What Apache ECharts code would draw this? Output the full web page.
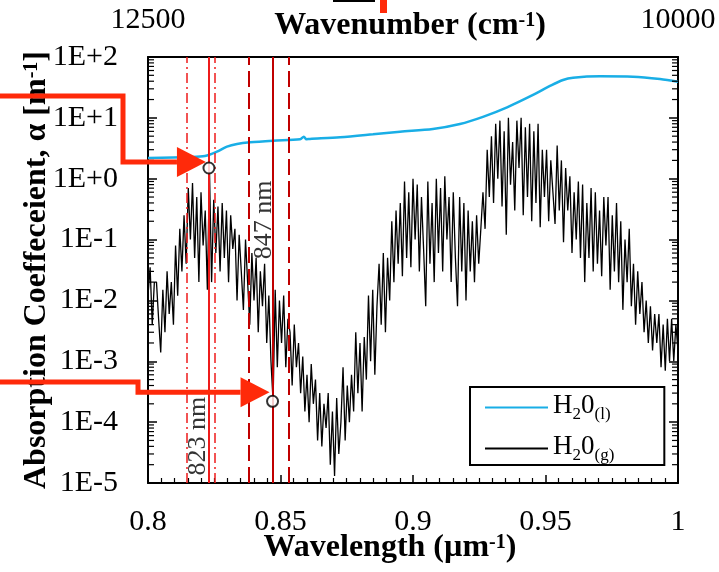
<!DOCTYPE html>
<html>
<head>
<meta charset="utf-8">
<script src="https://cdn.jsdelivr.net/npm/echarts@6/dist/echarts.min.js"></script>
<style>
  html, body { margin: 0; padding: 0; background: #fff; }
  #chart { width: 719px; height: 572px; }
</style>
</head>
<body>
<div id="chart"></div>
<script>
// liquid water (blue curve)
var liquidWl = [0.8, 0.8158, 0.8215, 0.826, 0.8298, 0.8336, 0.8385, 0.8472, 0.8574, 0.8588, 0.8598, 0.8611, 0.8725,
    0.8849, 0.8951, 0.9075, 0.9177, 0.9264, 0.9355, 0.9453, 0.9517, 0.9566, 0.9604, 0.9706, 0.983, 0.9932, 1.0];
var liquidAlpha = [2.19, 2.27, 2.36, 2.78, 3.36, 3.72, 3.96, 4.21, 4.45, 4.9, 4.45, 4.5, 4.8,
    5.37, 5.93, 6.57, 7.93, 10.4, 14.9, 23.8, 33.4, 41.9, 45.7, 48.2, 47.5, 43.5, 39.3];

// water vapour (black curve), one reading every 0.0008 um starting at 0.8 um
var gasStart = 0.8;
var gasStep = 0.0008;
var gasAlpha = [
    0.012, 0.035, 0.004, 0.02,
    0.02, 0.005, 0.0014, 0.015, 0.003,
    0.03, 0.006, 0.02, 0.004,
    0.08, 0.012, 0.15, 0.03, 0.25,
    0.04, 0.7, 0.1, 0.85, 0.05,
    0.5, 0.02, 0.6, 0.08, 0.3,
    0.015, 1.4,
    0.02, 0.45, 0.06, 0.35, 0.03,
    0.4, 0.05, 0.3, 0.02, 0.25, 0.07,
    0.15, 0.01, 0.12, 0.03, 0.007,
    0.1, 0.02, 0.004, 0.06, 0.01,
    0.05, 0.003, 0.03, 0.008, 0.04, 0.002,
    0.012, 0.001, 2.2e-4, 0.015, 8e-4,
    0.01, 0.002, 0.012, 8e-4, 0.005,
    0.003, 4e-4, 0.004, 8e-4, 0.002, 3e-4,
    0.0012, 1.5e-4, 6e-4, 1e-4, 9e-4, 2e-4,
    5e-4, 5e-5, 3e-4, 4e-5, 2e-4, 8e-5,
    3e-4, 2e-5, 1.5e-4, 1.3e-5, 2.5e-4, 3e-5, 1e-4,
    8e-4, 5e-5, 4e-4, 1e-4, 6e-4,
    1.5e-4, 0.003, 3e-4, 0.002, 1.5e-4, 0.0025,
    5e-4, 0.012, 0.001, 0.015, 6e-4, 0.008,
    0.04, 0.004, 0.06, 0.003, 0.05, 0.01,
    0.2, 0.02, 0.3, 0.04, 0.4, 0.025,
    0.9, 0.05, 0.6, 0.035, 1.0, 0.1,
    0.8, 0.03, 0.5, 0.07, 0.008, 0.9, 0.04, 0.4,
    0.02, 1.0, 0.06, 0.7, 0.03, 1.1, 0.1, 0.5,
    0.02, 0.6, 0.05, 0.008, 0.5, 0.03, 0.4, 0.01,
    0.3, 0.03, 0.2, 0.02, 0.25, 0.04, 0.15,
    0.6, 0.15, 3, 0.5, 5,
    0.4, 8, 1, 9, 0.35,
    6, 0.12, 10, 0.8, 4,
    0.3, 9, 1.5, 10, 0.25, 7, 0.5, 8,
    0.2, 6, 0.4, 8, 0.16, 3,
    0.5, 3, 0.2, 2, 0.6, 0.18,
    3.5, 0.3, 2, 0.09, 1.5, 0.3,
    1.1, 0.06, 0.6, 0.1, 0.9, 0.05,
    0.8, 0.02, 0.4, 0.05, 0.7, 0.03,
    0.6, 0.04, 0.3, 0.025, 0.5, 0.08,
    0.5, 0.015, 0.25, 0.03, 0.4, 0.02,
    0.2, 0.007, 0.1, 0.02, 0.15, 0.008,
    0.04, 0.004, 0.03, 0.006, 0.02, 0.003,
    0.01, 0.002, 0.008, 0.0015, 0.006, 0.002,
    0.006, 0.0008, 0.004, 0.0007, 0.005, 0.001,
    0.005, 0.001, 0.004, 0.0015
];

// the two laser lines (circles) and their band edges
var markWl = [0.823, 0.847];
var markAlpha = [1.5, 2.2e-4];
var band823 = [0.8147, 0.823, 0.8253];
var band847 = [0.8381, 0.847, 0.8531];
var markNames = ['823 nm', '847 nm'];
var markTextPos = [[0.8189, 5.9e-5], [0.8438, 0.21]];

// axes
var xTicks = [0.8, 0.85, 0.9, 0.95, 1];
var topLabels = ['12500', '10000'];
var yTickLabels = ['1E-5', '1E-4', '1E-3', '1E-2', '1E-1', '1E+0', '1E+1', '1E+2'];
var decades = [1e-5, 1e-4, 1e-3, 1e-2, 1e-1, 1, 10];

var serif = 'Liberation Serif';
var red1 = '#ee1b1b';
var red2 = '#c00000';

var gasData = gasAlpha.map(function (v, i) {
    return [+(gasStart + i * gasStep).toFixed(4), v];
});
var liquidData = liquidWl.map(function (w, i) {
    return [w, liquidAlpha[i]];
});

var minorVals = [];
decades.forEach(function (d) {
    for (var k = 2; k <= 9; k++) minorVals.push([0.8, d * k]);
});

function bandLine(x, color, type, width) {
    return { xAxis: x, lineStyle: { color: color, type: type, width: width } };
}

var titleRich = {
    b: { fontFamily: serif, fontSize: 32, fontWeight: 'bold', color: '#000', verticalAlign: 'bottom' },
    sup: { fontFamily: serif, fontSize: 20, fontWeight: 'bold', color: '#000', verticalAlign: 'bottom', padding: [0, 0, 11, 0] }
};

var chart = echarts.init(document.getElementById('chart'));

var option = {
    animation: false,
    backgroundColor: '#fff',
    grid: { left: 148, right: 41, top: 57, bottom: 89, outerBoundsMode: 'none' },
    legend: {
        data: [
            { name: 'H2O(l)', itemStyle: { opacity: 0 } },
            { name: 'H2O(g)', itemStyle: { opacity: 0 } }
        ],
        orient: 'vertical',
        left: 470,
        top: 387,
        padding: [5, 50, 1, 14],
        itemGap: 10,
        itemWidth: 63,
        itemHeight: 14,
        borderColor: '#000',
        borderWidth: 2,
        borderRadius: 0,
        backgroundColor: '#fff',
        selectedMode: false,
        formatter: function (name) {
            var state = name === 'H2O(l)' ? '(l)' : '(g)';
            return '{n|H}{s|2}{n|0}{s|' + state + '}';
        },
        textStyle: {
            fontFamily: serif, fontSize: 27, color: '#000',
            rich: {
                n: { fontFamily: serif, fontSize: 27, color: '#000', verticalAlign: 'bottom', padding: [0, 0, 4, 0] },
                s: { fontFamily: serif, fontSize: 17, color: '#000', verticalAlign: 'bottom' }
            }
        }
    },
    xAxis: [
        {
            type: 'value',
            min: 0.8,
            max: 1,
            interval: 0.05,
            position: 'bottom',
            axisLine: { show: true, lineStyle: { color: '#000', width: 2 } },
            axisTick: { show: true, inside: true, length: 8, lineStyle: { color: '#000', width: 1.5 } },
            minorTick: { show: true, splitNumber: 10, length: 5, lineStyle: { color: '#000', width: 1.2 } },
            splitLine: { show: false },
            axisLabel: {
                margin: 24,
                fontFamily: serif, fontSize: 30, color: '#000',
                formatter: function (v) {
                    for (var i = 0; i < xTicks.length; i++) {
                        if (Math.abs(xTicks[i] - v) < 1e-6) return String(xTicks[i]);
                    }
                    return '';
                }
            },
            name: '{b|Wavelength (µm}{sup|-1}{b|)}',
            nameLocation: 'middle',
            nameGap: 49,
            nameMoveOverlap: false,
            nameTextStyle: { padding: [0, 46, 0, 0], rich: titleRich }
        },
        {
            type: 'value',
            min: 0.8,
            max: 1,
            interval: 0.2,
            position: 'top',
            axisLine: { show: true, lineStyle: { color: '#000', width: 2 } },
            axisTick: { show: false },
            splitLine: { show: false },
            axisLabel: {
                margin: 22,
                showMinLabel: true,
                showMaxLabel: true,
                fontFamily: serif, fontSize: 30, color: '#000',
                formatter: function (v) {
                    if (Math.abs(v - 0.8) < 1e-6) return topLabels[0];
                    if (Math.abs(v - 1) < 1e-6) return topLabels[1];
                    return '';
                }
            },
            name: '{b|Wavenumber (cm}{sup|-1}{b|)}',
            nameLocation: 'middle',
            nameGap: 15,
            nameMoveOverlap: false,
            nameTextStyle: { padding: [0, 6, 0, 0], rich: titleRich }
        }
    ],
    yAxis: [
        {
            type: 'log',
            logBase: 10,
            min: 1e-5,
            max: 100,
            splitNumber: 7,
            axisLine: { show: true, lineStyle: { color: '#000', width: 2 } },
            axisTick: { show: true, inside: true, length: 9, lineStyle: { color: '#000', width: 1.5 } },
            splitLine: { show: false },
            axisLabel: {
                margin: 30,
                fontFamily: serif, fontSize: 30, color: '#000',
                formatter: function (v) {
                    var e = Math.round(Math.log10(v));
                    return yTickLabels[e + 5] || '';
                }
            },
            name: '{b|Absorption Coeffeceient, α [m}{sup|-1}{b|]}',
            nameLocation: 'middle',
            nameGap: 95,
            nameMoveOverlap: false,
            nameTextStyle: { rich: titleRich }
        },
        {
            type: 'log',
            logBase: 10,
            min: 1e-5,
            max: 100,
            splitNumber: 7,
            position: 'right',
            axisLine: { show: true, lineStyle: { color: '#000', width: 2 } },
            axisTick: { show: true, inside: true, length: 9, lineStyle: { color: '#000', width: 1.5 } },
            axisLabel: { show: false },
            splitLine: { show: false }
        }
    ],
    series: [
        {
            // log minor ticks on both vertical sides
            type: 'custom',
            name: 'ticks',
            silent: true,
            z: 5,
            data: minorVals,
            renderItem: function (params, api) {
                var v = api.value(1);
                var l = api.coord([0.8, v]);
                var r = api.coord([1, v]);
                return {
                    type: 'group',
                    children: [
                        { type: 'line', shape: { x1: l[0], y1: l[1], x2: l[0] + 6, y2: l[1] }, style: { stroke: '#000', lineWidth: 1.2 } },
                        { type: 'line', shape: { x1: r[0], y1: r[1], x2: r[0] - 6, y2: r[1] }, style: { stroke: '#000', lineWidth: 1.2 } }
                    ]
                };
            }
        },
        {
            name: 'bands',
            type: 'line',
            data: [],
            markLine: {
                silent: true,
                symbol: 'none',
                precision: 4,
                label: { show: false },
                data: [
                    bandLine(band823[0], red1, [10, 4, 2, 4], 1.5),
                    bandLine(band823[1], red1, 'solid', 2),
                    bandLine(band823[2], red1, [10, 4, 2, 4], 1.5),
                    bandLine(band847[0], red2, [16, 6], 2),
                    bandLine(band847[1], red2, 'solid', 2),
                    bandLine(band847[2], red2, [16, 6], 2)
                ]
            }
        },
        {
            name: 'H2O(g)',
            type: 'line',
            data: gasData,
            symbol: 'none',
            lineStyle: { color: '#000', width: 1.3 },
            itemStyle: { color: '#000' },
            z: 3
        },
        {
            name: 'H2O(l)',
            type: 'line',
            data: liquidData,
            symbol: 'none',
            smooth: 0.3,
            lineStyle: { color: '#19aee6', width: 2.5 },
            itemStyle: { color: '#19aee6' },
            z: 4
        },
        {
            name: 'marks',
            type: 'scatter',
            data: markWl.map(function (w, i) { return [w, markAlpha[i]]; }),
            symbol: 'emptyCircle',
            symbolSize: 11,
            itemStyle: { color: '#000', borderWidth: 2 },
            z: 6
        },
        {
            name: 'markText',
            type: 'scatter',
            data: markTextPos.map(function (p, i) { return { value: p, name: markNames[i] }; }),
            symbolSize: 0,
            itemStyle: { color: 'transparent' },
            label: {
                show: true,
                position: 'inside',
                rotate: 90,
                formatter: '{b}',
                fontFamily: serif, fontSize: 26, color: '#000'
            },
            z: 6
        }
    ]
};

chart.setOption(option);

// red arrows pointing at the two circles
var p1 = chart.convertToPixel({ xAxisIndex: 0, yAxisIndex: 0 }, [markWl[0], markAlpha[0]]);
var p2 = chart.convertToPixel({ xAxisIndex: 0, yAxisIndex: 0 }, [markWl[1], markAlpha[1]]);
var arrowColor = '#ff2a0a';

function arrow(tip, elbowX, topY) {
    var baseX = tip[0] - 29;
    return [
        {
            type: 'polyline',
            shape: { points: [[0, topY], [elbowX, topY], [elbowX, tip[1]], [baseX, tip[1]]] },
            style: { stroke: arrowColor, lineWidth: 5, fill: null, lineJoin: 'miter' },
            z: 100
        },
        {
            type: 'polygon',
            shape: { points: [[baseX, tip[1] - 15], [tip[0], tip[1]], [baseX, tip[1] + 15]] },
            style: { fill: arrowColor },
            z: 100
        }
    ];
}

var graphics = []
    .concat(arrow([p1[0] - 3, p1[1] - 6], 123, 96))
    .concat(arrow([p2[0] - 3, p2[1] - 9], 138, 382));

// cropped bits at the top edge of the original figure
graphics.push({ type: 'rect', shape: { x: 333, y: 0, width: 42, height: 2 }, style: { fill: '#000' }, z: 100 });
graphics.push({ type: 'rect', shape: { x: 380, y: 0, width: 7, height: 13 }, style: { fill: arrowColor }, z: 100 });

chart.setOption({ graphic: graphics });
</script>
</body>
</html>
